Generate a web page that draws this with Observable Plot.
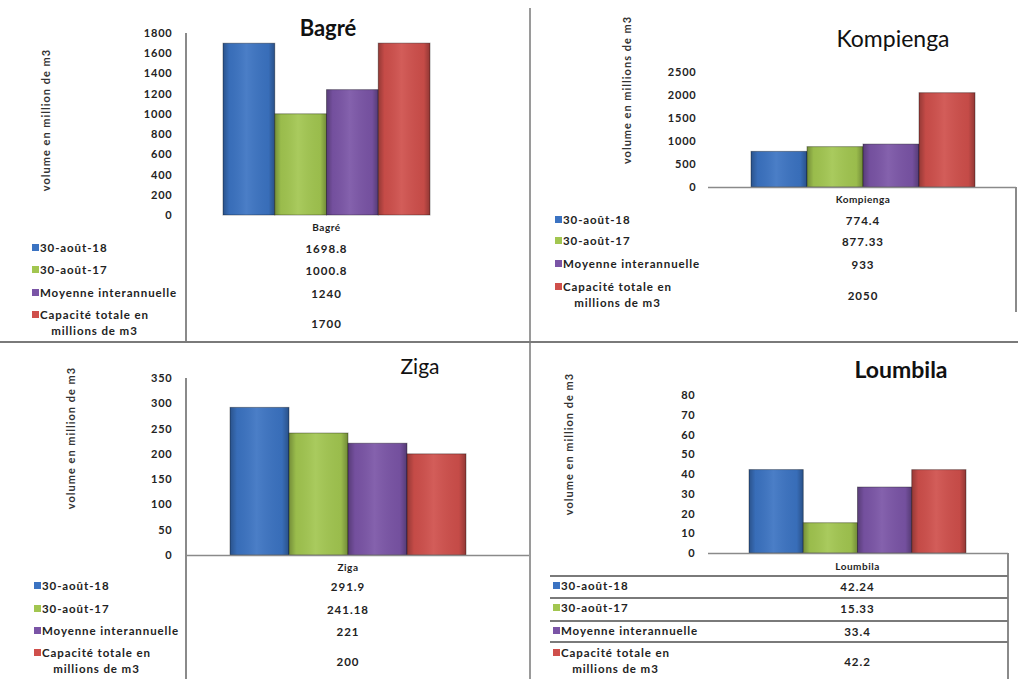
<!DOCTYPE html>
<html><head><meta charset="utf-8">
<script src="https://cdn.jsdelivr.net/npm/d3@7"></script>
<script src="https://cdn.jsdelivr.net/npm/@observablehq/plot@0.6"></script>
<style>
body{margin:0;background:#fff;}
#root{position:relative;width:1018px;height:679px;overflow:hidden;background:#fff;font-family:Lato,"Liberation Sans",sans-serif;color:#1e1e1e;}
.line{position:absolute;background:#8a8a8a;}
.title{position:absolute;transform:translate(-50%,-50%);white-space:nowrap;color:#111;}
.ylab{position:absolute;transform:translate(-50%,-50%) rotate(-90deg);white-space:nowrap;font-size:11px;font-weight:bold;color:#333;letter-spacing:1px;}
.row{position:absolute;transform:translateY(-50%);display:flex;align-items:flex-start;font-size:11.5px;font-weight:bold;line-height:16px;white-space:nowrap;letter-spacing:0.9px;color:#222;}
.key{display:inline-block;width:7px;height:7px;margin:4px 1px 0 0;}
.val{position:absolute;transform:translate(-50%,-50%);font-size:11.5px;font-weight:bold;white-space:nowrap;letter-spacing:1px;color:#222;}
.cat{position:absolute;transform:translate(-50%,-50%);font-size:10px;font-weight:bold;white-space:nowrap;letter-spacing:0.5px;}
svg text{letter-spacing:0.8px;}
</style></head><body><div id="root"></div>
<script>
// ---- data ----
const series = ["30-août-18", "30-août-17", "Moyenne interannuelle", "Capacité totale en millions de m3"];
const colors = ["#3b73c2", "#a2c650", "#7a54a6", "#cf4f4b"];
const bagre = [1698.8, 1000.8, 1240, 1700];
const kompienga = [774.4, 877.33, 933, 2050];
const ziga = [291.9, 241.18, 221, 200];
const loumbila = [42.24, 15.33, 33.4, 42.2];
const bagreTicks = [0, 200, 400, 600, 800, 1000, 1200, 1400, 1600, 1800];
const kompiengaTicks = [0, 500, 1000, 1500, 2000, 2500];
const zigaTicks = [0, 50, 100, 150, 200, 250, 300, 350];
const loumbilaTicks = [0, 10, 20, 30, 40, 50, 60, 70, 80];
const yLabels = ["volume en million de m3", "volume en millions de m3", "volume en million de m3", "volume en million de m3"];

// ---- layout ----
const panels = [
  {name: "Bagré", values: bagre, ticks: bagreTicks, left: 0, top: 0, w: 530, h: 342, mt: 33, mb: 127, ml: 223, mr: 100, pad: 51,
   title: {x: 328, y: 27, size: 22, weight: "bold"}, ylab: {x: 45, y: 120}, catY: 227, rows: [248, 270, 293, 323], keyX: 32, base: null},
  {name: "Kompienga", values: kompienga, ticks: kompiengaTicks, left: 530, top: 0, w: 488, h: 342, mt: 72, mb: 155, ml: 221, mr: 43, pad: 55,
   title: {x: 893, y: 38, size: 23, weight: "normal"}, ylab: {x: 626, y: 90}, catY: 199, rows: [220, 241, 264, 295], keyX: 555, base: [-43, -41]},
  {name: "Ziga", values: ziga, ticks: zigaTicks, left: 0, top: 342, w: 530, h: 337, mt: 36, mb: 124, ml: 230, mr: 64, pad: 58,
   title: {x: 420, y: 365, size: 21, weight: "normal"}, ylab: {x: 70, y: 438}, catY: 567, rows: [586, 609, 631, 661], keyX: 34, base: [-44, -64]},
  {name: "Loumbila", values: loumbila, ticks: loumbilaTicks, left: 530, top: 342, w: 488, h: 337, mt: 53, mb: 126, ml: 219, mr: 52, pad: 54,
   title: {x: 901, y: 369, size: 23, weight: "bold"}, ylab: {x: 568, y: 444}, catY: 566, rows: [586, 608, 631, 661], keyX: 553, base: [-41, -42]}
];

const root = document.getElementById("root");
function addLine(x, y, w, h, color) {
  const d = document.createElement("div");
  d.className = "line";
  Object.assign(d.style, {left: x + "px", top: y + "px", width: w + "px", height: h + "px"});
  if (color) d.style.background = color;
  root.appendChild(d);
}
function addDiv(cls, x, y, html, extra) {
  const d = document.createElement("div");
  d.className = cls;
  d.style.left = x + "px";
  d.style.top = y + "px";
  d.innerHTML = html;
  if (extra) Object.assign(d.style, extra);
  root.appendChild(d);
  return d;
}

panels.forEach((p, pi) => {
  const data = series.map((s, i) => ({series: s, value: p.values[i]}));
  const gid = "edge" + pi;
  const marks = [
    Plot.barY(data, {x: "series", y: "value", fill: "series", stroke: "rgba(0,0,0,0.35)", strokeWidth: 1}),
    Plot.barY(data, {x: "series", y: "value", fill: `url(#${gid})`}),
    Plot.axisY({ticks: p.ticks, tickSize: 0, tickPadding: p.pad, tickFormat: d => String(d), label: null, fill: "#222"})
  ];
  if (p.base) marks.push(Plot.ruleY([0], {stroke: "#8a8a8a", strokeWidth: 1.5, insetLeft: p.base[0], insetRight: p.base[1]}));
  const chart = Plot.plot({
    width: p.w, height: p.h,
    marginTop: p.mt, marginBottom: p.mb, marginLeft: p.ml, marginRight: p.mr,
    x: {domain: series, padding: 0, round: false, axis: null},
    y: {domain: [0, p.ticks[p.ticks.length - 1]]},
    color: {domain: series, range: colors},
    style: {fontFamily: "Lato, 'Liberation Sans', sans-serif", fontSize: "11px", fontWeight: "bold", background: "transparent", overflow: "visible"},
    marks
  });
  d3.select(chart).insert("defs", ":first-child").html(
    `<linearGradient id="${gid}" x1="0" x2="1" y1="0" y2="0">
       <stop offset="0" stop-color="#000" stop-opacity="0.28"/>
       <stop offset="0.12" stop-color="#000" stop-opacity="0.05"/>
       <stop offset="0.45" stop-color="#fff" stop-opacity="0.08"/>
       <stop offset="0.88" stop-color="#000" stop-opacity="0.05"/>
       <stop offset="1" stop-color="#000" stop-opacity="0.3"/>
     </linearGradient>`);
  chart.style.position = "absolute";
  chart.style.left = p.left + "px";
  chart.style.top = p.top + "px";
  root.appendChild(chart);

  // title & axis label
  addDiv("title", p.title.x, p.title.y, p.name, {fontSize: p.title.size + "px", fontWeight: p.title.weight});
  addDiv("ylab", p.ylab.x, p.ylab.y, yLabels[pi]);

  // data table
  const xs = chart.scale("x").range;
  const cx = p.left + (xs[0] + xs[1]) / 2;
  addDiv("cat", cx, p.catY, p.name);
  series.forEach((s, i) => {
    const label = s.replace(" en ", " en<br>");
    addDiv("row", p.keyX, p.rows[i],
      `<span class="key" style="background:${colors[i]}"></span><span style="display:inline-block;text-align:center">${label}</span>`);
    addDiv("val", cx, p.rows[i], String(p.values[i]));
  });
});

// frame / divider lines
addLine(529, 8, 2, 671, "#9a9a9a");
addLine(0, 341, 1018, 1.5, "#7a7a7a");
addLine(185, 33, 1.5, 308);
addLine(185, 378, 1.5, 301);
addLine(1015, 187, 1.5, 125);
addLine(1007, 553, 1.5, 126);
[575, 597, 620, 641].forEach(y => addLine(550, y, 458, 1.5, "#7a7a7a"));
</script></body></html>
